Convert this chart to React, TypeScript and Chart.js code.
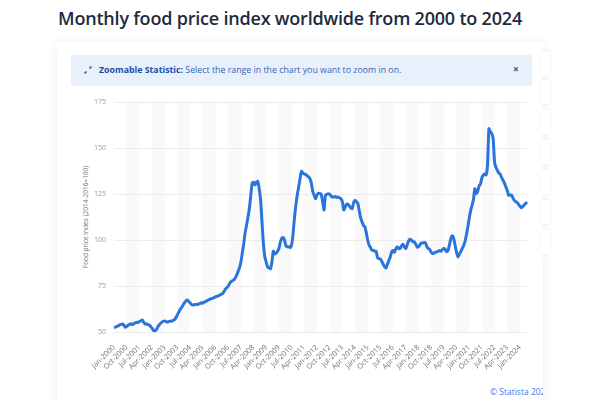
import React, { useEffect, useRef } from "react";
import { Chart, registerables } from "chart.js";

Chart.register(...registerables);

const MONTHS = ["Jan", "Feb", "Mar", "Apr", "May", "Jun", "Jul", "Aug", "Sep", "Oct", "Nov", "Dec"];
const FIRST_YEAR = 2000;

const V2000 = [52.5, 52.8, 53.2, 53.5, 54, 54.3, 54.5, 53.8, 52.7, 53.2, 53.8, 54.3];
const V2001 = [54.6, 54.2, 54.7, 55.1, 55.5, 55.3, 55.8, 56.2, 56.7, 55.6, 54.5, 54.6];
const V2002 = [54.2, 54, 53.2, 52.2, 51, 50.7, 51.5, 52.8, 54, 54.8, 55.5, 56];
const V2003 = [56.2, 55.8, 55.5, 55.9, 56.2, 56, 56.5, 56.9, 58, 59.5, 61, 62.5];
const V2004 = [63.5, 64.8, 66, 67, 67.5, 66.8, 66, 65.2, 64.8, 65, 65.3, 65];
const V2005 = [65.4, 65.6, 66, 65.8, 66.5, 66.7, 67.2, 67.6, 68, 68.3, 68.5, 68.8];
const V2006 = [69.3, 69.5, 69.8, 70.2, 70.6, 71, 72, 73.5, 74.2, 75, 76.5, 77.5];
const V2007 = [78, 78.5, 79.5, 81, 83, 85, 88, 93, 98, 104, 108, 112.5];
const V2008 = [117, 124, 131, 131.5, 130, 131.5, 132, 128, 122, 110, 98, 91];
const V2009 = [88, 85.5, 85, 84.5, 88, 94, 92.5, 93, 94, 95.5, 99, 101];
const V2010 = [101.5, 100, 97, 96.5, 96.5, 96, 97.5, 103, 112, 119, 124.5, 129];
const V2011 = [133.5, 137.5, 136.5, 136, 135.7, 135, 134.5, 133.5, 131, 126.5, 124.5, 122.5];
const V2012 = [124.5, 125.5, 125.5, 125, 121, 116.5, 124.5, 125, 125.3, 125, 124, 123.5];
const V2013 = [123.5, 123.8, 123.2, 123.5, 123, 122.6, 121, 116.5, 118, 119.5, 119.5, 118.5];
const V2014 = [117.5, 117.2, 120.5, 121.7, 121, 120, 116, 112, 110, 108, 107.3, 104];
const V2015 = [100, 97.3, 96, 94.6, 94.5, 94, 94, 90.5, 90, 89.8, 88.5, 87];
const V2016 = [85.5, 85, 87, 89, 91, 93.7, 94.5, 93.5, 95.5, 96.5, 95.5, 95.5];
const V2017 = [97, 97.9, 96.5, 95.5, 97.5, 99.7, 100.5, 100, 99.2, 99.2, 98, 96.4];
const V2018 = [96.5, 97.5, 98.5, 98.5, 98.8, 98.5, 96.5, 95.5, 95, 93.5, 92.8, 93];
const V2019 = [93.5, 93.7, 94, 94.5, 94, 95, 95.5, 95, 93.7, 94.5, 97.5, 101];
const V2020 = [102.4, 101, 97.3, 93.5, 91, 92.5, 93.7, 95.5, 97, 99.2, 103, 107];
const V2021 = [112, 116, 119, 122, 128, 125.4, 126.5, 129.5, 130.5, 134, 135.3, 136];
const V2022 = [135.5, 141, 160.6, 158.8, 158, 155, 142.5, 139.5, 138, 136.5, 136, 134];
const V2023 = [132.6, 131, 129, 127, 124.4, 124.6, 124.6, 123, 121.7, 121, 120.5, 119.5];
const V2024 = [118.5, 117.6, 118.3, 119.2, 120, 120.8];

const YEARLY = [V2000, V2001, V2002, V2003, V2004, V2005, V2006, V2007, V2008, V2009, V2010, V2011,
  V2012, V2013, V2014, V2015, V2016, V2017, V2018, V2019, V2020, V2021, V2022, V2023, V2024];

const TICK_LABELS = ["Jan-2000", "Oct-2000", "Jul-2001", "Apr-2002", "Jan-2003", "Oct-2003", "Jul-2004",
  "Apr-2005", "Jan-2006", "Oct-2006", "Jul-2007", "Apr-2008", "Jan-2009", "Oct-2009", "Jul-2010",
  "Apr-2011", "Jan-2012", "Oct-2012", "Jul-2013", "Apr-2014", "Jan-2015", "Oct-2015", "Jul-2016",
  "Apr-2017", "Jan-2018", "Oct-2018", "Jul-2019", "Apr-2020", "Jan-2021", "Oct-2021", "Jul-2022",
  "Apr-2023", "Jan-2024"];

const Y_TICKS = [50, 75, 100, 125, 150, 175];

const CATEGORIES: string[] = [];
const VALUES: number[] = [];
YEARLY.forEach((arr, yi) => {
  arr.forEach((v, mi) => {
    CATEGORIES.push(MONTHS[mi] + "-" + (FIRST_YEAR + yi));
    VALUES.push(v);
  });
});

const bandsPlugin = {
  id: "bands",
  beforeDraw(chart: any) {
    const { ctx, chartArea, scales } = chart;
    const x = scales.x;
    ctx.save();
    ctx.fillStyle = "#f9f9f9";
    const ticks = CATEGORIES.map((c, i) => i).filter((i) => TICK_LABELS.includes(CATEGORIES[i]));
    for (let k = 0; k < ticks.length; k++) {
      if (k % 2 === 1) {
        const x0 = x.getPixelForValue(ticks[k]);
        const x1 = k + 1 < ticks.length ? x.getPixelForValue(ticks[k + 1]) : chartArea.right;
        ctx.fillRect(x0, chartArea.top, Math.min(x1, chartArea.right) - x0, chartArea.bottom - chartArea.top);
      }
    }
    ctx.restore();
  },
};

function ChartView() {
  const ref = useRef<HTMLCanvasElement>(null);
  useEffect(() => {
    if (!ref.current) return;
    const chart = new Chart(ref.current, {
      type: "line",
      data: {
        labels: CATEGORIES,
        datasets: [
          {
            data: VALUES,
            borderColor: "#2a74da",
            borderWidth: 3,
            pointRadius: 0,
            tension: 0.2,
            fill: false,
          },
        ],
      },
      options: {
        animation: false,
        responsive: false,
        maintainAspectRatio: false,
        layout: { padding: { left: 0, right: 13, top: 11.5, bottom: 0 } },
        plugins: { legend: { display: false }, tooltip: { enabled: false } },
        scales: {
          x: {
            type: "category",
            offset: false,
            grid: { display: false },
            border: { display: false },
            ticks: {
              autoSkip: false,
              minRotation: 45,
              maxRotation: 45,
              padding: 3,
              color: "#707070",
              font: { family: "Open Sans", size: 7.3 },
              callback: (v: any, i: number) => (TICK_LABELS.includes(CATEGORIES[i]) ? CATEGORIES[i] : null),
            },
            afterFit: (s: any) => {
              s.height = 47.7;
            },
          },
          y: {
            min: Y_TICKS[0],
            max: Y_TICKS[Y_TICKS.length - 1],
            afterBuildTicks: (s: any) => {
              s.ticks = Y_TICKS.map((v) => ({ value: v }));
            },
            grid: { color: "#ececec", drawTicks: false },
            border: { display: false },
            ticks: {
              padding: 8,
              color: "#999",
              font: { family: "Open Sans", size: 7 },
            },
            afterFit: (s: any) => {
              s.width = 54;
            },
          },
        },
      },
      plugins: [bandsPlugin],
    });
    return () => chart.destroy();
  }, []);
  return <canvas ref={ref} width={480} height={290} style={{ position: "absolute", left: 60, top: 90, width: 480, height: 290 }} />;
}

export default function App() {
  return (
    <div style={{ position: "fixed", left: 0, top: 0, width: 600, height: 400, overflow: "hidden", background: "#fff", fontFamily: "Open Sans" }}>
      <div style={{ position: "absolute", left: 58, top: 5, fontSize: 18, fontWeight: 600, color: "#1d2b3c", lineHeight: "26px", whiteSpace: "nowrap", letterSpacing: -0.2 }}>
        Monthly food price index worldwide from 2000 to 2024
      </div>
      <div style={{ position: "absolute", left: 57, top: 42, width: 486, height: 420, background: "#fff", boxShadow: "0 0 10px rgba(0,0,0,0.07)", overflow: "hidden" }}>
        <div style={{ position: "absolute", left: 356, top: 344, fontSize: 8.5, color: "#3c7de0", whiteSpace: "nowrap", width: 130, textAlign: "right" }}>
          <span style={{ position: "absolute", left: 77 }}>© Statista 2024</span>
        </div>
      </div>
      {[52, 80, 110, 140, 170, 200, 230].map((t, i) => (
        <div key={i} style={{ position: "absolute", left: 540, top: t, width: 10, height: 24, background: "#fff", boxShadow: "0 0 4px rgba(0,0,0,0.06)" }} />
      ))}
      <div style={{ position: "absolute", left: 71, top: 55, width: 461, height: 31, background: "#e8f1fb", borderRadius: 2 }}>
        <svg style={{ position: "absolute", left: 13, top: 11 }} width="8" height="8" viewBox="0 0 8 8">
          <path d="M1 7 L2.5 5.5 M7 1 L5.5 2.5" stroke="#2a4f8f" strokeWidth="1.2" />
          <path d="M0.5 7.5 L0.5 5.5 L2.5 7.5 Z M7.5 0.5 L5.5 0.5 L7.5 2.5 Z" fill="#2a4f8f" />
        </svg>
        <div style={{ position: "absolute", left: 28, top: 8, fontSize: 8.8, color: "#3465b5", whiteSpace: "nowrap", lineHeight: "14px" }}>
          <span style={{ fontWeight: 700, color: "#1f4f9e" }}>Zoomable Statistic:</span> Select the range in the chart you want to zoom in on.
        </div>
        <div style={{ position: "absolute", left: 442, top: 7, fontSize: 10, fontWeight: 700, color: "#1f4f9e", lineHeight: "14px" }}>×</div>
      </div>
      <div style={{ position: "absolute", left: 85, top: 217, transform: "translate(-50%, -50%) rotate(-90deg)", fontSize: 6.5, color: "#777", whiteSpace: "nowrap" }}>
        Food price index (2014-2016=100)
      </div>
      <ChartView />
    </div>
  );
}
